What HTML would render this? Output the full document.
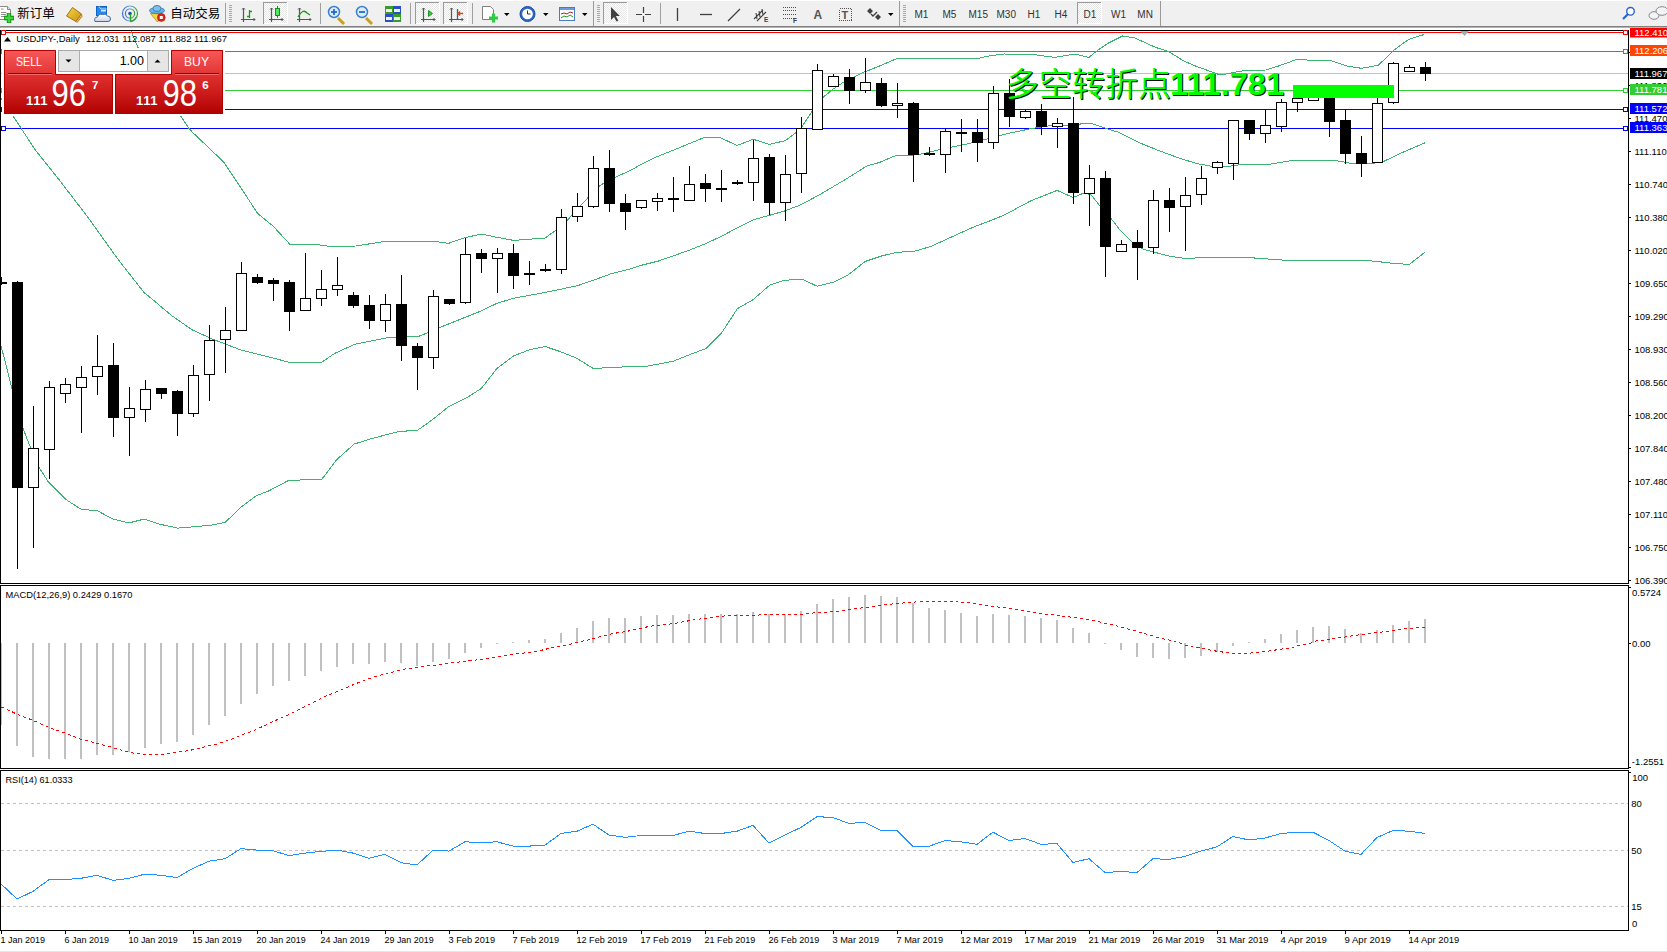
<!DOCTYPE html><html><head><meta charset="utf-8"><title>USDJPY Daily</title><style>html,body{margin:0;padding:0;background:#fff;overflow:hidden}svg{display:block}text{white-space:pre}</style></head><body>
<svg width="1667" height="952" viewBox="0 0 1667 952">
<rect x="0" y="0" width="1667" height="952" fill="#FFFFFF"/>
<g id="tb">
<rect x="0" y="0" width="1667" height="26" fill="#F0F0F0"/>
<rect x="0" y="0" width="1667" height="1" fill="#FFFFFF"/>
<rect x="0" y="26" width="1667" height="1" fill="#7F7F7F"/>
<rect x="0" y="27" width="1667" height="1" fill="#B4B4B4"/>
<rect x="225" y="3" width="1" height="21" fill="#A0A0A0"/>
<rect x="320" y="3" width="1" height="21" fill="#A0A0A0"/>
<rect x="410" y="3" width="1" height="21" fill="#A0A0A0"/>
<rect x="472" y="3" width="1" height="21" fill="#A0A0A0"/>
<rect x="660" y="3" width="1" height="21" fill="#A0A0A0"/>
<rect x="593" y="1" width="1" height="25" fill="#9A9A9A"/>
<rect x="899" y="1" width="1" height="25" fill="#9A9A9A"/>
<rect x="1160" y="1" width="1" height="25" fill="#9A9A9A"/>
<rect x="229" y="5" width="3" height="1" fill="#A8A8A8"/>
<rect x="229" y="7" width="3" height="1" fill="#A8A8A8"/>
<rect x="229" y="9" width="3" height="1" fill="#A8A8A8"/>
<rect x="229" y="11" width="3" height="1" fill="#A8A8A8"/>
<rect x="229" y="13" width="3" height="1" fill="#A8A8A8"/>
<rect x="229" y="15" width="3" height="1" fill="#A8A8A8"/>
<rect x="229" y="17" width="3" height="1" fill="#A8A8A8"/>
<rect x="229" y="19" width="3" height="1" fill="#A8A8A8"/>
<rect x="229" y="21" width="3" height="1" fill="#A8A8A8"/>
<rect x="597" y="5" width="3" height="1" fill="#A8A8A8"/>
<rect x="597" y="7" width="3" height="1" fill="#A8A8A8"/>
<rect x="597" y="9" width="3" height="1" fill="#A8A8A8"/>
<rect x="597" y="11" width="3" height="1" fill="#A8A8A8"/>
<rect x="597" y="13" width="3" height="1" fill="#A8A8A8"/>
<rect x="597" y="15" width="3" height="1" fill="#A8A8A8"/>
<rect x="597" y="17" width="3" height="1" fill="#A8A8A8"/>
<rect x="597" y="19" width="3" height="1" fill="#A8A8A8"/>
<rect x="597" y="21" width="3" height="1" fill="#A8A8A8"/>
<rect x="903" y="5" width="3" height="1" fill="#A8A8A8"/>
<rect x="903" y="7" width="3" height="1" fill="#A8A8A8"/>
<rect x="903" y="9" width="3" height="1" fill="#A8A8A8"/>
<rect x="903" y="11" width="3" height="1" fill="#A8A8A8"/>
<rect x="903" y="13" width="3" height="1" fill="#A8A8A8"/>
<rect x="903" y="15" width="3" height="1" fill="#A8A8A8"/>
<rect x="903" y="17" width="3" height="1" fill="#A8A8A8"/>
<rect x="903" y="19" width="3" height="1" fill="#A8A8A8"/>
<rect x="903" y="21" width="3" height="1" fill="#A8A8A8"/>
<defs><pattern id="pchk" width="2" height="2" patternUnits="userSpaceOnUse"><rect width="2" height="2" fill="#FFFFFF"/><rect width="1" height="1" fill="#E6E6E6"/><rect x="1" y="1" width="1" height="1" fill="#E6E6E6"/></pattern></defs>
<rect x="263" y="2" width="25" height="22" fill="#FFFFFF"/>
<rect x="264" y="3" width="23" height="20" fill="url(#pchk)"/>
<rect x="263" y="2" width="1" height="22" fill="#9A9A9A"/>
<rect x="263" y="2" width="24" height="1" fill="#9A9A9A"/>
<rect x="415" y="2" width="25" height="22" fill="#FFFFFF"/>
<rect x="416" y="3" width="23" height="20" fill="url(#pchk)"/>
<rect x="415" y="2" width="1" height="22" fill="#9A9A9A"/>
<rect x="415" y="2" width="24" height="1" fill="#9A9A9A"/>
<rect x="443" y="2" width="25" height="22" fill="#FFFFFF"/>
<rect x="444" y="3" width="23" height="20" fill="url(#pchk)"/>
<rect x="443" y="2" width="1" height="22" fill="#9A9A9A"/>
<rect x="443" y="2" width="24" height="1" fill="#9A9A9A"/>
<rect x="603" y="2" width="25" height="22" fill="#FFFFFF"/>
<rect x="604" y="3" width="23" height="20" fill="url(#pchk)"/>
<rect x="603" y="2" width="1" height="22" fill="#9A9A9A"/>
<rect x="603" y="2" width="24" height="1" fill="#9A9A9A"/>
<rect x="1077" y="2" width="25" height="22" fill="#FFFFFF"/>
<rect x="1078" y="3" width="23" height="20" fill="url(#pchk)"/>
<rect x="1077" y="2" width="1" height="22" fill="#9A9A9A"/>
<rect x="1077" y="2" width="24" height="1" fill="#9A9A9A"/>
<path d="M-0.5,6.5 h8 l3,3 v10 h-11 z" fill="#FFFFFF" stroke="#8A8A8A"/>
<path d="M7.5,6.5 v3 h3" fill="#E0E0E0" stroke="#8A8A8A"/>
<path d="M1,9h2.5M1,12.5h5.5M1,14.5h5M1,16.5h3" stroke="#909090"/>
<path d="M4,18 h10 M9,13 v10" stroke="#108A10" stroke-width="4.4"/>
<path d="M4.6,18 h8.8 M9,13.6 v8.8" stroke="#3AD83A" stroke-width="2.6"/>
<text x="17.3" y="17.6" font-family='"Liberation Sans", "Noto Sans CJK SC", "WenQuanYi Zen Hei", sans-serif' font-size="12.5" fill="#000">新订单</text>
<defs><linearGradient id="gbook" x1="0" y1="0" x2="1" y2="1"><stop offset="0" stop-color="#F8D840"/><stop offset="1" stop-color="#C89018"/></linearGradient><linearGradient id="gsig" x1="0" y1="0" x2="1" y2="0"><stop offset="0" stop-color="#3A6FD8"/><stop offset="0.5" stop-color="#7AA8E0"/><stop offset="1" stop-color="#3AA040"/></linearGradient><linearGradient id="gcloud" x1="0" y1="0" x2="0" y2="1"><stop offset="0" stop-color="#FFFFFF"/><stop offset="1" stop-color="#C8D4E4"/></linearGradient></defs>
<path d="M66.5,16 L72.5,7.5 L81.5,14 L76,21.5 Z" fill="url(#gbook)" stroke="#A86E12"/>
<path d="M76,21.5 L81.5,14 L82,16.5 L77,22.5 Z" fill="#E8C060" stroke="#A86E12" stroke-width="0.8"/>
<rect x="96.5" y="6.5" width="10" height="9" fill="#1E8CF0" stroke="#1060C0"/>
<path d="M99,6.5 l2,2.5 h5.5" stroke="#BFE0FF" fill="none"/>
<rect x="101" y="10" width="5" height="1.5" fill="#D0E8FF"/>
<path d="M95,21.5 q-1.5,-4 2.5,-4.5 q1,-3.5 5,-2.5 q3,-1.5 5,1.5 q3,0 3,3 q0,2.5 -2.5,2.5 z" fill="url(#gcloud)" stroke="#4A6898"/>
<circle cx="130" cy="13.5" r="7.5" fill="none" stroke="url(#gsig)" stroke-width="1.2"/>
<circle cx="130" cy="13.5" r="4.6" fill="none" stroke="url(#gsig)" stroke-width="1.2"/>
<circle cx="130" cy="13.5" r="1.8" fill="#2050C0"/>
<path d="M130.5,14 v7.5 M130.5,21.5 q4,-0.5 5.5,-4" stroke="#2AA02A" stroke-width="1.4" fill="none"/>
<path d="M150.5,13.5 l7,8.5 l6,-8 z" fill="#F4D648" stroke="#C09A20"/>
<ellipse cx="157" cy="10.5" rx="7.5" ry="3" fill="#6AB4E4" stroke="#3A82B8"/>
<ellipse cx="157" cy="8.5" rx="4" ry="3" fill="#7CC0EC" stroke="#3A82B8"/>
<circle cx="161.3" cy="17.5" r="3.9" fill="#D82818" stroke="#B01808" stroke-width="0.6"/>
<rect x="159.8" y="16" width="3" height="3" fill="#FFFFFF"/>
<text x="170.3" y="17.6" font-family='"Liberation Sans", "Noto Sans CJK SC", "WenQuanYi Zen Hei", sans-serif' font-size="12.5" fill="#000">自动交易</text>
<path d="M243.5,8 v14 M241,19.5 h14" stroke="#555555" stroke-width="1.2" fill="none"/>
<path d="M242,9.5 l1.5,-1.5 l1.5,1.5 M253.5,18 l1.5,1.5 l-1.5,1.5" stroke="#555555" fill="none"/>
<path d="M249.5,10 v8 M247,16.5 h2.5 M249.5,11.5 h2.5" stroke="#1A9A1A" stroke-width="1.3" fill="none"/>
<path d="M271.5,8 v14 M269,19.5 h14" stroke="#555555" stroke-width="1.2" fill="none"/>
<path d="M270,9.5 l1.5,-1.5 l1.5,1.5 M281.5,18 l1.5,1.5 l-1.5,1.5" stroke="#555555" fill="none"/>
<rect x="275.5" y="8.5" width="4" height="7" fill="#50E860" stroke="#109A10"/>
<path d="M277.5,6 v2.5 M277.5,15.5 v2.5" stroke="#109A10"/>
<path d="M299.5,8 v14 M297,19.5 h14" stroke="#555555" stroke-width="1.2" fill="none"/>
<path d="M298,9.5 l1.5,-1.5 l1.5,1.5 M309.5,18 l1.5,1.5 l-1.5,1.5" stroke="#555555" fill="none"/>
<path d="M298,17 q5,-9 9,-4 l3,2" stroke="#1A9A1A" stroke-width="1.3" fill="none"/>
<path d="M338,18 l6,6" stroke="#C8A020" stroke-width="3"/>
<circle cx="334" cy="12" r="5.5" fill="#D8ECFA" stroke="#3A80D0" stroke-width="1.5"/>
<path d="M331,12 h6" stroke="#2A6AC0" stroke-width="1.8"/>
<path d="M334,9 v6" stroke="#2A6AC0" stroke-width="1.8"/>
<path d="M366,18 l6,6" stroke="#C8A020" stroke-width="3"/>
<circle cx="362" cy="12" r="5.5" fill="#D8ECFA" stroke="#3A80D0" stroke-width="1.5"/>
<path d="M359,12 h6" stroke="#2A6AC0" stroke-width="1.8"/>
<rect x="385" y="6" width="8" height="8" fill="#3A9A2A"/>
<rect x="386" y="9" width="6" height="3" fill="#EAF2EA"/>
<rect x="393" y="6" width="8" height="8" fill="#2A50C0"/>
<rect x="394" y="9" width="6" height="3" fill="#EAF2EA"/>
<rect x="385" y="14" width="8" height="8" fill="#2A50C0"/>
<rect x="386" y="17" width="6" height="3" fill="#EAF2EA"/>
<rect x="393" y="14" width="8" height="8" fill="#3A9A2A"/>
<rect x="394" y="17" width="6" height="3" fill="#EAF2EA"/>
<path d="M423.5,8 v14 M421,19.5 h14" stroke="#555555" stroke-width="1.2" fill="none"/>
<path d="M422,9.5 l1.5,-1.5 l1.5,1.5 M433.5,18 l1.5,1.5 l-1.5,1.5" stroke="#555555" fill="none"/>
<path d="M428.5,10.5 l4,3 l-4,3 z" fill="#2ECC40" stroke="#1A9A1A"/>
<path d="M451.5,8 v14 M449,19.5 h14" stroke="#555555" stroke-width="1.2" fill="none"/>
<path d="M450,9.5 l1.5,-1.5 l1.5,1.5 M461.5,18 l1.5,1.5 l-1.5,1.5" stroke="#555555" fill="none"/>
<path d="M457.5,9 v10" stroke="#2060C0" stroke-width="1.3"/>
<path d="M463,13.5 h-4 M460,11.5 l-2,2 l2,2" stroke="#E04010" stroke-width="1.3" fill="none"/>
<path d="M482.5,6.5 h8 l3,3 v10 h-11 z" fill="#FFFFFF" stroke="#808080"/>
<path d="M489,18h9M493.5,13.5v9" stroke="#2ECC40" stroke-width="3"/>
<path d="M504,13 h5.5 l-2.75,3 z" fill="#000"/>
<path d="M543,13 h5.5 l-2.75,3 z" fill="#000"/>
<path d="M582,13 h5.5 l-2.75,3 z" fill="#000"/>
<path d="M888,13 h5.5 l-2.75,3 z" fill="#000"/>
<circle cx="527.5" cy="14" r="7.5" fill="#2A6AD0" stroke="#1A4A98"/>
<circle cx="527.5" cy="14" r="5.3" fill="#FFFFFF"/>
<path d="M527.5,10.5 v3.5 h3" stroke="#333" fill="none"/>
<rect x="559.5" y="7.5" width="15" height="13" fill="#FFFFFF" stroke="#4A7AC0"/>
<rect x="560" y="8" width="14" height="2" fill="#6A9AE0"/>
<path d="M561,14 l3,-1 l3,1 l3,-2 l3,1" stroke="#B02020" fill="none"/>
<path d="M561,18 l3,-2 l3,1 l3,-2 l3,2" stroke="#20A020" fill="none"/>
<path d="M611,7 l0,13 l3,-3 l2.5,4.5 l1.8,-1 l-2.5,-4.5 l4,0 z" fill="#404040"/>
<path d="M643.5,7 v15 M636,14.5 h15" stroke="#404040" stroke-width="1.2"/>
<rect x="642" y="13" width="3" height="3" fill="#F0F0F0"/>
<path d="M677.5,8 v13" stroke="#404040" stroke-width="1.3"/>
<path d="M700,14.5 h12" stroke="#404040" stroke-width="1.3"/>
<path d="M728,21 l12,-12" stroke="#404040" stroke-width="1.3"/>
<path d="M754,19 l9,-9 M757,21 l9,-9 M756,13 l1,6 M759,11 l1,6 M762,9 l1,6" stroke="#404040" stroke-width="1.1" fill="none"/>
<text x="764" y="22" font-family='"Liberation Sans", Arial, sans-serif' font-size="6.5" font-weight="bold" fill="#404040">E</text>
<path d="M783,7.5 h13" stroke="#505050" stroke-dasharray="1,1" shape-rendering="crispEdges"/>
<path d="M783,10.5 h13" stroke="#505050" stroke-dasharray="1,1" shape-rendering="crispEdges"/>
<path d="M783,14.5 h13" stroke="#505050" stroke-dasharray="1,1" shape-rendering="crispEdges"/>
<path d="M783,18.5 h13" stroke="#505050" stroke-dasharray="1,1" shape-rendering="crispEdges"/>
<text x="793" y="23" font-family='"Liberation Sans", Arial, sans-serif' font-size="6.5" font-weight="bold" fill="#404040">F</text>
<text x="813.5" y="18.5" font-family='"Liberation Sans", Arial, sans-serif' font-size="12" font-weight="bold" fill="#555">A</text>
<rect x="839.5" y="8.5" width="12" height="12" fill="none" stroke="#505050" stroke-dasharray="1,1" shape-rendering="crispEdges"/>
<text x="841.5" y="18.5" font-family='"Liberation Sans", Arial, sans-serif' font-size="11" font-weight="bold" fill="#555">T</text>
<path d="M870,8 l3,3 l-3,3 l-3,-3 z M878,14 l3,3 l-3,3 l-3,-3 z" fill="#404040"/>
<path d="M871,14 l2,2 l4,-4" stroke="#404040" stroke-width="1.3" fill="none"/>
<text x="914.5" y="18.4" font-family='"Liberation Sans", Arial, sans-serif' font-size="10" fill="#333">M1</text>
<text x="942.5" y="18.4" font-family='"Liberation Sans", Arial, sans-serif' font-size="10" fill="#333">M5</text>
<text x="968.5" y="18.4" font-family='"Liberation Sans", Arial, sans-serif' font-size="10" fill="#333">M15</text>
<text x="996.5" y="18.4" font-family='"Liberation Sans", Arial, sans-serif' font-size="10" fill="#333">M30</text>
<text x="1027.5" y="18.4" font-family='"Liberation Sans", Arial, sans-serif' font-size="10" fill="#333">H1</text>
<text x="1054.5" y="18.4" font-family='"Liberation Sans", Arial, sans-serif' font-size="10" fill="#333">H4</text>
<text x="1083.5" y="18.4" font-family='"Liberation Sans", Arial, sans-serif' font-size="10" fill="#333">D1</text>
<text x="1111" y="18.4" font-family='"Liberation Sans", Arial, sans-serif' font-size="10" fill="#333">W1</text>
<text x="1137.3" y="18.4" font-family='"Liberation Sans", Arial, sans-serif' font-size="10" fill="#333">MN</text>
<circle cx="1630.5" cy="11.3" r="3.8" fill="#FFFFFF" stroke="#2A62D0" stroke-width="1.4"/>
<path d="M1628,14 l-5,5" stroke="#2A62D0" stroke-width="2.2"/>
<ellipse cx="1654" cy="15.5" rx="5" ry="3.8" fill="#F4F4F8" stroke="#888"/>
<ellipse cx="1662" cy="11" rx="6" ry="4.3" fill="#F4F4F8" stroke="#888"/>
</g>
<defs><clipPath id="cm"><rect x="1" y="31" width="1627" height="552"/></clipPath><clipPath id="cmacd"><rect x="1" y="586" width="1627" height="182"/></clipPath><clipPath id="crsi"><rect x="1" y="771" width="1627" height="159"/></clipPath><clipPath id="cax"><rect x="1629" y="28" width="38" height="924"/></clipPath></defs>
<rect x="0" y="30" width="1629" height="1" fill="#000"/>
<rect x="0" y="583" width="1629" height="1" fill="#000"/>
<rect x="0" y="30" width="1" height="554" fill="#000"/>
<rect x="1628" y="30" width="1" height="554" fill="#000"/>
<rect x="1" y="32" width="1627" height="1" fill="#FF0000"/>
<rect x="1" y="51" width="1627" height="1" fill="#FF4500"/>
<rect x="1" y="73" width="1627" height="1" fill="#C0C0C0"/>
<rect x="1" y="90" width="1627" height="1" fill="#32CD32"/>
<rect x="1" y="109" width="1627" height="1" fill="#0000FF"/>
<rect x="1" y="128" width="1627" height="1" fill="#0000FF"/>
<g clip-path="url(#cm)" fill="none" stroke="#3CB371" stroke-width="1" shape-rendering="crispEdges">
<polyline points="125.0,18.0 131.0,30.9 138.0,47.4 160.0,84.0 180.9,116.2 188.6,128.0 192.6,132.4 223.5,161.8 241.2,188.2 257.4,213.2 273.5,226.5 289.7,244.1 310.0,244.3 320.0,245.0 329.6,246.4 356.4,246.0 383.2,241.6 436.8,241.6 448.4,243.4 465.4,237.5 481.6,234.1 496.8,237.3 513.6,240.4 545.0,238.0 553.5,232.0 566.1,221.5 577.0,209.6 588.8,196.8 598.6,186.8 603.9,182.9 614.6,177.5 630.0,170.7 640.0,165.0 656.8,156.8 683.6,146.0 704.1,137.5 721.0,138.0 737.1,145.5 753.2,139.3 769.3,144.3 785.4,140.7 796.0,132.7 800.7,128.6 811.4,112.5 822.0,98.2 832.9,89.3 843.6,82.1 861.4,73.2 879.3,66.1 896.2,58.9 905.0,58.2 979.0,58.2 987.3,56.2 1004.0,54.0 1032.7,54.5 1054.5,57.4 1074.7,54.0 1089.0,57.4 1098.2,49.8 1108.3,43.1 1122.5,36.0 1135.0,38.0 1155.3,47.3 1168.7,51.5 1183.4,60.8 1196.9,66.6 1220.4,75.0 1233.8,72.5 1245.6,70.3 1265.7,70.0 1279.2,65.8 1297.6,59.1 1309.4,60.2 1329.6,60.2 1348.0,66.3 1361.5,68.3 1378.3,65.3 1393.4,50.7 1408.5,39.4 1424.4,34.4"/>
<polyline points="1.0,98.0 13.2,116.2 35.3,150.0 58.8,179.4 88.2,217.6 117.6,258.8 144.1,292.6 150.0,297.3 171.0,315.1 192.0,329.8 213.0,339.3 240.3,349.8 261.3,355.0 288.5,362.1 321.8,362.1 335.0,353.2 354.6,344.3 390.4,337.1 418.0,336.6 427.9,332.7 440.4,327.3 480.0,311.4 496.8,303.4 513.6,298.2 545.1,292.5 577.7,285.6 593.4,280.3 610.3,274.0 627.1,269.8 641.8,265.2 658.6,261.0 675.4,255.1 690.1,249.9 705.8,243.6 721.6,236.2 737.4,227.8 753.1,219.8 769.9,215.2 784.6,211.0 800.0,205.1 817.3,196.0 833.7,186.4 847.4,178.2 866.8,166.0 879.3,162.5 896.2,155.4 915.0,155.0 925.7,153.2 938.2,150.0 950.7,147.3 967.9,143.9 988.4,138.6 1008.9,133.2 1030.4,128.8 1048.2,126.0 1066.0,125.7 1085.7,123.4 1092.9,124.0 1104.3,127.9 1118.6,132.3 1140.0,143.0 1157.9,150.2 1179.3,158.2 1197.1,163.6 1211.4,166.2 1225.7,166.8 1241.8,164.5 1268.9,164.4 1294.1,160.2 1333.5,160.2 1350.9,163.3 1366.6,164.0 1382.4,162.0 1402.3,152.5 1425.0,142.8"/>
<polyline points="0.0,341.8 11.8,387.8 23.6,429.8 30.2,446.9 39.4,467.9 48.6,482.3 65.7,499.4 81.4,509.4 97.2,510.7 112.9,519.0 128.7,523.0 144.4,519.0 160.2,524.3 177.9,528.1 210.4,525.3 225.1,522.4 241.9,506.4 255.6,496.1 269.2,490.7 288.6,480.4 321.8,479.3 336.5,459.8 354.3,444.0 372.2,438.4 399.5,431.4 417.4,430.4 433.1,419.2 447.8,407.3 466.7,397.8 481.4,388.4 496.8,368.6 513.6,356.0 529.4,349.7 545.1,346.5 560.9,351.8 576.6,358.1 593.4,368.6 609.2,367.5 648.1,366.0 673.3,361.2 690.1,354.5 705.8,348.6 721.6,332.9 737.4,308.7 753.1,299.7 769.9,285.0 784.6,280.3 802.3,279.2 817.3,286.3 833.7,282.0 848.7,274.5 865.1,261.5 881.5,256.0 896.5,252.3 914.3,251.3 930.7,246.5 945.7,239.6 960.7,232.8 974.4,226.7 990.0,220.8 1003.6,215.4 1030.4,201.0 1057.1,190.4 1073.2,197.5 1083.9,193.0 1091.0,194.8 1101.8,208.2 1110.7,218.0 1120.0,230.0 1132.9,243.0 1143.6,249.3 1170.4,256.4 1182.9,258.2 1241.8,257.3 1257.9,258.2 1273.6,259.5 1291.0,260.6 1368.2,260.6 1382.4,262.1 1391.8,263.2 1409.2,264.5 1425.0,252.2"/>
</g>
<rect x="1623.5" y="30.5" width="4" height="4" fill="#FFF" stroke="#FF0000"/>
<rect x="1.5" y="30.5" width="4" height="4" fill="#FFF" stroke="#FF0000"/>
<rect x="1623.5" y="49.5" width="4" height="4" fill="#FFF" stroke="#FF4500"/>
<rect x="1.5" y="49.5" width="4" height="4" fill="#FFF" stroke="#FF4500"/>
<rect x="1623.5" y="88.5" width="4" height="4" fill="#FFF" stroke="#32CD32"/>
<rect x="1.5" y="88.5" width="4" height="4" fill="#FFF" stroke="#32CD32"/>
<rect x="1623.5" y="107.5" width="4" height="4" fill="#FFF" stroke="#0000FF"/>
<rect x="1.5" y="107.5" width="4" height="4" fill="#FFF" stroke="#0000FF"/>
<rect x="1623.5" y="126.5" width="4" height="4" fill="#FFF" stroke="#0000FF"/>
<rect x="1.5" y="126.5" width="4" height="4" fill="#FFF" stroke="#0000FF"/>
<g clip-path="url(#cm)" shape-rendering="crispEdges">
<rect x="1" y="277" width="1" height="8" fill="#000"/>
<rect x="-3.5" y="282.5" width="10" height="1" fill="#000" stroke="#000"/>
<rect x="17" y="281" width="1" height="288" fill="#000"/>
<rect x="12.5" y="282.5" width="10" height="205" fill="#000" stroke="#000"/>
<rect x="33" y="406" width="1" height="142" fill="#000"/>
<rect x="28.5" y="448.5" width="10" height="39" fill="#FFF" stroke="#000"/>
<rect x="49" y="381" width="1" height="98" fill="#000"/>
<rect x="44.5" y="387.5" width="10" height="62" fill="#FFF" stroke="#000"/>
<rect x="65" y="378" width="1" height="25" fill="#000"/>
<rect x="60.5" y="384.5" width="10" height="9" fill="#FFF" stroke="#000"/>
<rect x="81" y="366" width="1" height="67" fill="#000"/>
<rect x="76.5" y="377.5" width="10" height="10" fill="#FFF" stroke="#000"/>
<rect x="97" y="335" width="1" height="60" fill="#000"/>
<rect x="92.5" y="366.5" width="10" height="10" fill="#FFF" stroke="#000"/>
<rect x="113" y="343" width="1" height="94" fill="#000"/>
<rect x="108.5" y="365.5" width="10" height="52" fill="#000" stroke="#000"/>
<rect x="129" y="387" width="1" height="69" fill="#000"/>
<rect x="124.5" y="408.5" width="10" height="9" fill="#FFF" stroke="#000"/>
<rect x="145" y="380" width="1" height="42" fill="#000"/>
<rect x="140.5" y="389.5" width="10" height="20" fill="#FFF" stroke="#000"/>
<rect x="161" y="388" width="1" height="11" fill="#000"/>
<rect x="156.5" y="388.5" width="10" height="5" fill="#000" stroke="#000"/>
<rect x="177" y="390" width="1" height="46" fill="#000"/>
<rect x="172.5" y="391.5" width="10" height="22" fill="#000" stroke="#000"/>
<rect x="193" y="365" width="1" height="52" fill="#000"/>
<rect x="188.5" y="375.5" width="10" height="38" fill="#FFF" stroke="#000"/>
<rect x="209" y="325" width="1" height="76" fill="#000"/>
<rect x="204.5" y="340.5" width="10" height="34" fill="#FFF" stroke="#000"/>
<rect x="225" y="307" width="1" height="66" fill="#000"/>
<rect x="220.5" y="330.5" width="10" height="9" fill="#FFF" stroke="#000"/>
<rect x="241" y="262" width="1" height="69" fill="#000"/>
<rect x="236.5" y="273.5" width="10" height="57" fill="#FFF" stroke="#000"/>
<rect x="257" y="274" width="1" height="10" fill="#000"/>
<rect x="252.5" y="277.5" width="10" height="5" fill="#000" stroke="#000"/>
<rect x="273" y="278" width="1" height="23" fill="#000"/>
<rect x="268.5" y="280.5" width="10" height="3" fill="#000" stroke="#000"/>
<rect x="289" y="280" width="1" height="51" fill="#000"/>
<rect x="284.5" y="282.5" width="10" height="29" fill="#000" stroke="#000"/>
<rect x="305" y="253" width="1" height="57" fill="#000"/>
<rect x="300.5" y="298.5" width="10" height="12" fill="#FFF" stroke="#000"/>
<rect x="321" y="270" width="1" height="36" fill="#000"/>
<rect x="316.5" y="289.5" width="10" height="9" fill="#FFF" stroke="#000"/>
<rect x="337" y="257" width="1" height="39" fill="#000"/>
<rect x="332.5" y="285.5" width="10" height="4" fill="#FFF" stroke="#000"/>
<rect x="353" y="292" width="1" height="16" fill="#000"/>
<rect x="348.5" y="295.5" width="10" height="10" fill="#000" stroke="#000"/>
<rect x="369" y="295" width="1" height="34" fill="#000"/>
<rect x="364.5" y="305.5" width="10" height="15" fill="#000" stroke="#000"/>
<rect x="385" y="294" width="1" height="38" fill="#000"/>
<rect x="380.5" y="304.5" width="10" height="16" fill="#FFF" stroke="#000"/>
<rect x="401" y="275" width="1" height="86" fill="#000"/>
<rect x="396.5" y="304.5" width="10" height="41" fill="#000" stroke="#000"/>
<rect x="417" y="343" width="1" height="47" fill="#000"/>
<rect x="412.5" y="346.5" width="10" height="11" fill="#000" stroke="#000"/>
<rect x="433" y="290" width="1" height="79" fill="#000"/>
<rect x="428.5" y="296.5" width="10" height="61" fill="#FFF" stroke="#000"/>
<rect x="449" y="299" width="1" height="6" fill="#000"/>
<rect x="444.5" y="299.5" width="10" height="4" fill="#000" stroke="#000"/>
<rect x="465" y="238" width="1" height="66" fill="#000"/>
<rect x="460.5" y="254.5" width="10" height="48" fill="#FFF" stroke="#000"/>
<rect x="481" y="249" width="1" height="24" fill="#000"/>
<rect x="476.5" y="253.5" width="10" height="5" fill="#000" stroke="#000"/>
<rect x="497" y="248" width="1" height="45" fill="#000"/>
<rect x="492.5" y="253.5" width="10" height="5" fill="#FFF" stroke="#000"/>
<rect x="513" y="244" width="1" height="45" fill="#000"/>
<rect x="508.5" y="253.5" width="10" height="22" fill="#000" stroke="#000"/>
<rect x="529" y="261" width="1" height="24" fill="#000"/>
<rect x="524.5" y="273.5" width="10" height="1" fill="#000" stroke="#000"/>
<rect x="545" y="264" width="1" height="8" fill="#000"/>
<rect x="540.5" y="269.5" width="10" height="1" fill="#000" stroke="#000"/>
<rect x="561" y="209" width="1" height="65" fill="#000"/>
<rect x="556.5" y="217.5" width="10" height="52" fill="#FFF" stroke="#000"/>
<rect x="577" y="193" width="1" height="29" fill="#000"/>
<rect x="572.5" y="206.5" width="10" height="10" fill="#FFF" stroke="#000"/>
<rect x="593" y="156" width="1" height="52" fill="#000"/>
<rect x="588.5" y="168.5" width="10" height="38" fill="#FFF" stroke="#000"/>
<rect x="609" y="150" width="1" height="62" fill="#000"/>
<rect x="604.5" y="168.5" width="10" height="35" fill="#000" stroke="#000"/>
<rect x="625" y="194" width="1" height="36" fill="#000"/>
<rect x="620.5" y="203.5" width="10" height="8" fill="#000" stroke="#000"/>
<rect x="641" y="200" width="1" height="9" fill="#000"/>
<rect x="636.5" y="200.5" width="10" height="7" fill="#FFF" stroke="#000"/>
<rect x="657" y="193" width="1" height="18" fill="#000"/>
<rect x="652.5" y="198.5" width="10" height="3" fill="#FFF" stroke="#000"/>
<rect x="673" y="177" width="1" height="35" fill="#000"/>
<rect x="668.5" y="198.5" width="10" height="1" fill="#000" stroke="#000"/>
<rect x="689" y="166" width="1" height="34" fill="#000"/>
<rect x="684.5" y="184.5" width="10" height="16" fill="#FFF" stroke="#000"/>
<rect x="705" y="174" width="1" height="28" fill="#000"/>
<rect x="700.5" y="183.5" width="10" height="5" fill="#000" stroke="#000"/>
<rect x="721" y="170" width="1" height="32" fill="#000"/>
<rect x="716.5" y="188.5" width="10" height="1" fill="#000" stroke="#000"/>
<rect x="737" y="180" width="1" height="5" fill="#000"/>
<rect x="732.5" y="182.5" width="10" height="1" fill="#000" stroke="#000"/>
<rect x="753" y="140" width="1" height="61" fill="#000"/>
<rect x="748.5" y="158.5" width="10" height="24" fill="#FFF" stroke="#000"/>
<rect x="769" y="154" width="1" height="61" fill="#000"/>
<rect x="764.5" y="157.5" width="10" height="45" fill="#000" stroke="#000"/>
<rect x="785" y="155" width="1" height="66" fill="#000"/>
<rect x="780.5" y="174.5" width="10" height="28" fill="#FFF" stroke="#000"/>
<rect x="801" y="117" width="1" height="76" fill="#000"/>
<rect x="796.5" y="128.5" width="10" height="45" fill="#FFF" stroke="#000"/>
<rect x="817" y="64" width="1" height="65" fill="#000"/>
<rect x="812.5" y="70.5" width="10" height="59" fill="#FFF" stroke="#000"/>
<rect x="833" y="74" width="1" height="12" fill="#000"/>
<rect x="828.5" y="76.5" width="10" height="10" fill="#FFF" stroke="#000"/>
<rect x="849" y="69" width="1" height="35" fill="#000"/>
<rect x="844.5" y="77.5" width="10" height="13" fill="#000" stroke="#000"/>
<rect x="865" y="58" width="1" height="35" fill="#000"/>
<rect x="860.5" y="82.5" width="10" height="8" fill="#FFF" stroke="#000"/>
<rect x="881" y="78" width="1" height="29" fill="#000"/>
<rect x="876.5" y="83.5" width="10" height="22" fill="#000" stroke="#000"/>
<rect x="897" y="83" width="1" height="35" fill="#000"/>
<rect x="892.5" y="103.5" width="10" height="2" fill="#FFF" stroke="#000"/>
<rect x="913" y="102" width="1" height="80" fill="#000"/>
<rect x="908.5" y="103.5" width="10" height="51" fill="#000" stroke="#000"/>
<rect x="929" y="147" width="1" height="9" fill="#000"/>
<rect x="924.5" y="153.5" width="10" height="1" fill="#000" stroke="#000"/>
<rect x="945" y="128" width="1" height="45" fill="#000"/>
<rect x="940.5" y="131.5" width="10" height="23" fill="#FFF" stroke="#000"/>
<rect x="961" y="119" width="1" height="33" fill="#000"/>
<rect x="956.5" y="132.5" width="10" height="1" fill="#000" stroke="#000"/>
<rect x="977" y="119" width="1" height="43" fill="#000"/>
<rect x="972.5" y="132.5" width="10" height="10" fill="#000" stroke="#000"/>
<rect x="993" y="86" width="1" height="63" fill="#000"/>
<rect x="988.5" y="93.5" width="10" height="49" fill="#FFF" stroke="#000"/>
<rect x="1009" y="79" width="1" height="48" fill="#000"/>
<rect x="1004.5" y="93.5" width="10" height="23" fill="#000" stroke="#000"/>
<rect x="1025" y="110" width="1" height="9" fill="#000"/>
<rect x="1020.5" y="111.5" width="10" height="6" fill="#FFF" stroke="#000"/>
<rect x="1041" y="104" width="1" height="31" fill="#000"/>
<rect x="1036.5" y="111.5" width="10" height="15" fill="#000" stroke="#000"/>
<rect x="1057" y="118" width="1" height="30" fill="#000"/>
<rect x="1052.5" y="123.5" width="10" height="3" fill="#FFF" stroke="#000"/>
<rect x="1073" y="97" width="1" height="107" fill="#000"/>
<rect x="1068.5" y="123.5" width="10" height="69" fill="#000" stroke="#000"/>
<rect x="1089" y="165" width="1" height="61" fill="#000"/>
<rect x="1084.5" y="178.5" width="10" height="15" fill="#FFF" stroke="#000"/>
<rect x="1105" y="171" width="1" height="106" fill="#000"/>
<rect x="1100.5" y="178.5" width="10" height="68" fill="#000" stroke="#000"/>
<rect x="1121" y="240" width="1" height="11" fill="#000"/>
<rect x="1116.5" y="244.5" width="10" height="7" fill="#FFF" stroke="#000"/>
<rect x="1137" y="230" width="1" height="50" fill="#000"/>
<rect x="1132.5" y="242.5" width="10" height="5" fill="#000" stroke="#000"/>
<rect x="1153" y="190" width="1" height="64" fill="#000"/>
<rect x="1148.5" y="200.5" width="10" height="47" fill="#FFF" stroke="#000"/>
<rect x="1169" y="188" width="1" height="44" fill="#000"/>
<rect x="1164.5" y="200.5" width="10" height="7" fill="#000" stroke="#000"/>
<rect x="1185" y="177" width="1" height="74" fill="#000"/>
<rect x="1180.5" y="195.5" width="10" height="11" fill="#FFF" stroke="#000"/>
<rect x="1201" y="166" width="1" height="39" fill="#000"/>
<rect x="1196.5" y="178.5" width="10" height="16" fill="#FFF" stroke="#000"/>
<rect x="1217" y="161" width="1" height="13" fill="#000"/>
<rect x="1212.5" y="162.5" width="10" height="5" fill="#FFF" stroke="#000"/>
<rect x="1233" y="120" width="1" height="60" fill="#000"/>
<rect x="1228.5" y="120.5" width="10" height="43" fill="#FFF" stroke="#000"/>
<rect x="1249" y="120" width="1" height="20" fill="#000"/>
<rect x="1244.5" y="120.5" width="10" height="13" fill="#000" stroke="#000"/>
<rect x="1265" y="109" width="1" height="34" fill="#000"/>
<rect x="1260.5" y="125.5" width="10" height="8" fill="#FFF" stroke="#000"/>
<rect x="1281" y="99" width="1" height="33" fill="#000"/>
<rect x="1276.5" y="102.5" width="10" height="24" fill="#FFF" stroke="#000"/>
<rect x="1297" y="95" width="1" height="17" fill="#000"/>
<rect x="1292.5" y="98.5" width="10" height="4" fill="#FFF" stroke="#000"/>
<rect x="1313" y="92" width="1" height="8" fill="#000"/>
<rect x="1308.5" y="95.5" width="10" height="5" fill="#FFF" stroke="#000"/>
<rect x="1329" y="90" width="1" height="47" fill="#000"/>
<rect x="1324.5" y="95.5" width="10" height="26" fill="#000" stroke="#000"/>
<rect x="1345" y="109" width="1" height="55" fill="#000"/>
<rect x="1340.5" y="120.5" width="10" height="33" fill="#000" stroke="#000"/>
<rect x="1361" y="136" width="1" height="41" fill="#000"/>
<rect x="1356.5" y="153.5" width="10" height="10" fill="#000" stroke="#000"/>
<rect x="1377" y="98" width="1" height="64" fill="#000"/>
<rect x="1372.5" y="103.5" width="10" height="59" fill="#FFF" stroke="#000"/>
<rect x="1393" y="62" width="1" height="42" fill="#000"/>
<rect x="1388.5" y="63.5" width="10" height="39" fill="#FFF" stroke="#000"/>
<rect x="1409" y="65" width="1" height="6" fill="#000"/>
<rect x="1404.5" y="67.5" width="10" height="4" fill="#FFF" stroke="#000"/>
<rect x="1425" y="62" width="1" height="19" fill="#000"/>
<rect x="1420.5" y="67.5" width="10" height="6" fill="#000" stroke="#000"/>
</g>
<path d="M1460,31 h9 l-4.5,5 z" fill="#A8A8A8"/>
<rect x="1293" y="85" width="101" height="13" fill="#00FF00"/>
<text x="1007" y="97" font-family='"Liberation Sans", "Noto Sans CJK SC", "WenQuanYi Zen Hei", sans-serif' font-size="33" font-weight="350" fill="#000000" textLength="165" lengthAdjust="spacingAndGlyphs">多空转折点</text>
<text x="1171" y="96" font-family='"Liberation Sans", Arial, sans-serif' font-weight="bold" font-size="31.5" fill="#000000" textLength="114" lengthAdjust="spacingAndGlyphs">111.781</text>
<text x="1006" y="96" font-family='"Liberation Sans", "Noto Sans CJK SC", "WenQuanYi Zen Hei", sans-serif' font-size="33" font-weight="350" fill="#00FF00" textLength="165" lengthAdjust="spacingAndGlyphs">多空转折点</text>
<text x="1170" y="95" font-family='"Liberation Sans", Arial, sans-serif' font-weight="bold" font-size="31.5" fill="#00FF00" textLength="114" lengthAdjust="spacingAndGlyphs">111.781</text>
<defs><linearGradient id="gtab" x1="0" y1="0" x2="0" y2="1"><stop offset="0" stop-color="#F85858"/><stop offset="1" stop-color="#E23636"/></linearGradient><linearGradient id="gbox" x1="0" y1="0" x2="0" y2="1"><stop offset="0" stop-color="#E03030"/><stop offset="0.5" stop-color="#CC1A1A"/><stop offset="1" stop-color="#B00000"/></linearGradient></defs>
<path d="M4,41.5 l3.5,-4.5 l3.5,4.5 z" fill="#000"/>
<text x="16.3" y="42" font-family='"Liberation Sans", Arial, sans-serif' font-size="9.5" fill="#000" textLength="63.5" lengthAdjust="spacingAndGlyphs">USDJPY-,Daily</text>
<text x="86" y="42" font-family='"Liberation Sans", Arial, sans-serif' font-size="9.5" fill="#000" textLength="141" lengthAdjust="spacingAndGlyphs">112.031 112.087 111.882 111.967</text>
<rect x="2" y="48" width="223" height="68" fill="#FFFFFF"/>
<rect x="4" y="74" width="109" height="40" fill="url(#gbox)"/>
<rect x="4" y="50" width="52" height="24" fill="url(#gtab)"/>
<rect x="115" y="74" width="108" height="40" fill="url(#gbox)"/>
<rect x="171" y="50" width="52" height="24" fill="url(#gtab)"/>
<path d="M4.5,50.5 H55.5 V74.5 H112.5 V113.5 H4.5 Z" fill="none" stroke="#B00000"/>
<path d="M171.5,50.5 H222.5 V113.5 H115.5 V74.5 H171.5 Z" fill="none" stroke="#B00000"/>
<rect x="8" y="73" width="44" height="1" fill="#8A0000"/><rect x="8" y="74" width="44" height="1" fill="#F06A6A"/>
<rect x="175" y="73" width="44" height="1" fill="#8A0000"/><rect x="175" y="74" width="44" height="1" fill="#F06A6A"/>
<text x="16" y="66" font-family='"Liberation Sans", Arial, sans-serif' font-size="12.5" fill="#FFF" textLength="26" lengthAdjust="spacingAndGlyphs">SELL</text>
<text x="184" y="66" font-family='"Liberation Sans", Arial, sans-serif' font-size="12.5" fill="#FFF" textLength="25" lengthAdjust="spacingAndGlyphs">BUY</text>
<rect x="58.5" y="50.5" width="110" height="21" fill="#FFF" stroke="#A8A8A8"/>
<rect x="59" y="51" width="20" height="20" fill="#E6E6E6"/><rect x="79" y="51" width="1" height="20" fill="#B0B0B0"/>
<rect x="148" y="51" width="20" height="20" fill="#E6E6E6"/><rect x="147" y="51" width="1" height="20" fill="#B0B0B0"/>
<path d="M65.5,59.5 h6 l-3,3 z" fill="#000"/><path d="M154.5,62.5 h6 l-3,-3 z" fill="#000"/>
<text x="144" y="65" font-family='"Liberation Sans", Arial, sans-serif' font-size="12.5" fill="#000" text-anchor="end">1.00</text>
<text x="26.0" y="105" font-family='"Liberation Sans", Arial, sans-serif' font-size="13" font-weight="bold" fill="#FFF" textLength="21.6" lengthAdjust="spacing">111</text>
<text x="51.5" y="105.5" font-family='"Liberation Sans", Arial, sans-serif' font-size="36" fill="#FFF" textLength="34.5" lengthAdjust="spacingAndGlyphs">96</text>
<text x="92" y="88.5" font-family='"Liberation Sans", Arial, sans-serif' font-size="11.5" font-weight="bold" fill="#FFF">7</text>
<text x="136.0" y="105" font-family='"Liberation Sans", Arial, sans-serif' font-size="13" font-weight="bold" fill="#FFF" textLength="21.6" lengthAdjust="spacing">111</text>
<text x="162.5" y="105.5" font-family='"Liberation Sans", Arial, sans-serif' font-size="36" fill="#FFF" textLength="34.5" lengthAdjust="spacingAndGlyphs">98</text>
<text x="202.3" y="88.5" font-family='"Liberation Sans", Arial, sans-serif' font-size="11.5" font-weight="bold" fill="#FFF">6</text>
<rect x="1629" y="52" width="2" height="1" fill="#000"/>
<text x="1634.5" y="56" font-family='"Liberation Sans", Arial, sans-serif' font-size="9.5" fill="#000">112.200</text>
<rect x="1629" y="85" width="2" height="1" fill="#000"/>
<text x="1634.5" y="89" font-family='"Liberation Sans", Arial, sans-serif' font-size="9.5" fill="#000">111.830</text>
<rect x="1629" y="118" width="2" height="1" fill="#000"/>
<text x="1634.5" y="122" font-family='"Liberation Sans", Arial, sans-serif' font-size="9.5" fill="#000">111.470</text>
<rect x="1629" y="151" width="2" height="1" fill="#000"/>
<text x="1634.5" y="155" font-family='"Liberation Sans", Arial, sans-serif' font-size="9.5" fill="#000">111.110</text>
<rect x="1629" y="184" width="2" height="1" fill="#000"/>
<text x="1634.5" y="188" font-family='"Liberation Sans", Arial, sans-serif' font-size="9.5" fill="#000">110.740</text>
<rect x="1629" y="217" width="2" height="1" fill="#000"/>
<text x="1634.5" y="221" font-family='"Liberation Sans", Arial, sans-serif' font-size="9.5" fill="#000">110.380</text>
<rect x="1629" y="250" width="2" height="1" fill="#000"/>
<text x="1634.5" y="254" font-family='"Liberation Sans", Arial, sans-serif' font-size="9.5" fill="#000">110.020</text>
<rect x="1629" y="283" width="2" height="1" fill="#000"/>
<text x="1634.5" y="287" font-family='"Liberation Sans", Arial, sans-serif' font-size="9.5" fill="#000">109.650</text>
<rect x="1629" y="316" width="2" height="1" fill="#000"/>
<text x="1634.5" y="320" font-family='"Liberation Sans", Arial, sans-serif' font-size="9.5" fill="#000">109.290</text>
<rect x="1629" y="349" width="2" height="1" fill="#000"/>
<text x="1634.5" y="353" font-family='"Liberation Sans", Arial, sans-serif' font-size="9.5" fill="#000">108.930</text>
<rect x="1629" y="382" width="2" height="1" fill="#000"/>
<text x="1634.5" y="386" font-family='"Liberation Sans", Arial, sans-serif' font-size="9.5" fill="#000">108.560</text>
<rect x="1629" y="415" width="2" height="1" fill="#000"/>
<text x="1634.5" y="419" font-family='"Liberation Sans", Arial, sans-serif' font-size="9.5" fill="#000">108.200</text>
<rect x="1629" y="448" width="2" height="1" fill="#000"/>
<text x="1634.5" y="452" font-family='"Liberation Sans", Arial, sans-serif' font-size="9.5" fill="#000">107.840</text>
<rect x="1629" y="481" width="2" height="1" fill="#000"/>
<text x="1634.5" y="485" font-family='"Liberation Sans", Arial, sans-serif' font-size="9.5" fill="#000">107.480</text>
<rect x="1629" y="514" width="2" height="1" fill="#000"/>
<text x="1634.5" y="518" font-family='"Liberation Sans", Arial, sans-serif' font-size="9.5" fill="#000">107.110</text>
<rect x="1629" y="547" width="2" height="1" fill="#000"/>
<text x="1634.5" y="551" font-family='"Liberation Sans", Arial, sans-serif' font-size="9.5" fill="#000">106.750</text>
<rect x="1629" y="580" width="2" height="1" fill="#000"/>
<text x="1634.5" y="584" font-family='"Liberation Sans", Arial, sans-serif' font-size="9.5" fill="#000">106.390</text>
<g clip-path="url(#cax)">
<rect x="1630" y="26.5" width="37" height="11" fill="#FF0000"/>
<text x="1634.5" y="35.5" font-family='"Liberation Sans", Arial, sans-serif' font-size="9.5" fill="#FFF">112.410</text>
<rect x="1630" y="45" width="37" height="11" fill="#FF4500"/>
<text x="1634.5" y="54" font-family='"Liberation Sans", Arial, sans-serif' font-size="9.5" fill="#FFF">112.206</text>
<rect x="1630" y="68" width="37" height="11" fill="#000000"/>
<text x="1634.5" y="77" font-family='"Liberation Sans", Arial, sans-serif' font-size="9.5" fill="#FFF">111.967</text>
<rect x="1630" y="84" width="37" height="11" fill="#32CD32"/>
<text x="1634.5" y="93" font-family='"Liberation Sans", Arial, sans-serif' font-size="9.5" fill="#FFF">111.781</text>
<rect x="1630" y="103" width="37" height="11" fill="#0000FF"/>
<text x="1634.5" y="112" font-family='"Liberation Sans", Arial, sans-serif' font-size="9.5" fill="#FFF">111.572</text>
<rect x="1630" y="122" width="37" height="11" fill="#0000FF"/>
<text x="1634.5" y="131" font-family='"Liberation Sans", Arial, sans-serif' font-size="9.5" fill="#FFF">111.363</text>
</g>
<rect x="0" y="585" width="1629" height="1" fill="#000"/>
<rect x="0" y="768" width="1629" height="1" fill="#000"/>
<rect x="0" y="585" width="1" height="184" fill="#000"/>
<rect x="1628" y="585" width="1" height="184" fill="#000"/>
<g clip-path="url(#cmacd)" shape-rendering="crispEdges">
<rect x="0" y="643" width="2" height="82" fill="#C0C0C0"/>
<rect x="16" y="643" width="2" height="103" fill="#C0C0C0"/>
<rect x="32" y="643" width="2" height="114" fill="#C0C0C0"/>
<rect x="48" y="643" width="2" height="116" fill="#C0C0C0"/>
<rect x="64" y="643" width="2" height="116" fill="#C0C0C0"/>
<rect x="80" y="643" width="2" height="116" fill="#C0C0C0"/>
<rect x="96" y="643" width="2" height="112" fill="#C0C0C0"/>
<rect x="112" y="643" width="2" height="112" fill="#C0C0C0"/>
<rect x="128" y="643" width="2" height="109" fill="#C0C0C0"/>
<rect x="144" y="643" width="2" height="105" fill="#C0C0C0"/>
<rect x="160" y="643" width="2" height="101" fill="#C0C0C0"/>
<rect x="176" y="643" width="2" height="99" fill="#C0C0C0"/>
<rect x="192" y="643" width="2" height="92" fill="#C0C0C0"/>
<rect x="208" y="643" width="2" height="82" fill="#C0C0C0"/>
<rect x="224" y="643" width="2" height="73" fill="#C0C0C0"/>
<rect x="240" y="643" width="2" height="61" fill="#C0C0C0"/>
<rect x="256" y="643" width="2" height="51" fill="#C0C0C0"/>
<rect x="272" y="643" width="2" height="43" fill="#C0C0C0"/>
<rect x="288" y="643" width="2" height="38" fill="#C0C0C0"/>
<rect x="304" y="643" width="2" height="33" fill="#C0C0C0"/>
<rect x="320" y="643" width="2" height="28" fill="#C0C0C0"/>
<rect x="336" y="643" width="2" height="24" fill="#C0C0C0"/>
<rect x="352" y="643" width="2" height="21" fill="#C0C0C0"/>
<rect x="368" y="643" width="2" height="21" fill="#C0C0C0"/>
<rect x="384" y="643" width="2" height="19" fill="#C0C0C0"/>
<rect x="400" y="643" width="2" height="20" fill="#C0C0C0"/>
<rect x="416" y="643" width="2" height="23" fill="#C0C0C0"/>
<rect x="432" y="643" width="2" height="19" fill="#C0C0C0"/>
<rect x="448" y="643" width="2" height="16" fill="#C0C0C0"/>
<rect x="464" y="643" width="2" height="10" fill="#C0C0C0"/>
<rect x="480" y="643" width="2" height="5" fill="#C0C0C0"/>
<rect x="496" y="643" width="2" height="1" fill="#C0C0C0"/>
<rect x="512" y="642" width="2" height="1" fill="#C0C0C0"/>
<rect x="528" y="640" width="2" height="3" fill="#C0C0C0"/>
<rect x="544" y="639" width="2" height="4" fill="#C0C0C0"/>
<rect x="560" y="633" width="2" height="10" fill="#C0C0C0"/>
<rect x="576" y="628" width="2" height="15" fill="#C0C0C0"/>
<rect x="592" y="621" width="2" height="22" fill="#C0C0C0"/>
<rect x="608" y="618" width="2" height="25" fill="#C0C0C0"/>
<rect x="624" y="618" width="2" height="25" fill="#C0C0C0"/>
<rect x="640" y="616" width="2" height="27" fill="#C0C0C0"/>
<rect x="656" y="615" width="2" height="28" fill="#C0C0C0"/>
<rect x="672" y="615" width="2" height="28" fill="#C0C0C0"/>
<rect x="688" y="614" width="2" height="29" fill="#C0C0C0"/>
<rect x="704" y="614" width="2" height="29" fill="#C0C0C0"/>
<rect x="720" y="614" width="2" height="29" fill="#C0C0C0"/>
<rect x="736" y="614" width="2" height="29" fill="#C0C0C0"/>
<rect x="752" y="612" width="2" height="31" fill="#C0C0C0"/>
<rect x="768" y="614" width="2" height="29" fill="#C0C0C0"/>
<rect x="784" y="614" width="2" height="29" fill="#C0C0C0"/>
<rect x="800" y="611" width="2" height="32" fill="#C0C0C0"/>
<rect x="816" y="604" width="2" height="39" fill="#C0C0C0"/>
<rect x="832" y="599" width="2" height="44" fill="#C0C0C0"/>
<rect x="848" y="597" width="2" height="46" fill="#C0C0C0"/>
<rect x="864" y="595" width="2" height="48" fill="#C0C0C0"/>
<rect x="880" y="596" width="2" height="47" fill="#C0C0C0"/>
<rect x="896" y="597" width="2" height="46" fill="#C0C0C0"/>
<rect x="912" y="603" width="2" height="40" fill="#C0C0C0"/>
<rect x="928" y="608" width="2" height="35" fill="#C0C0C0"/>
<rect x="944" y="610" width="2" height="33" fill="#C0C0C0"/>
<rect x="960" y="613" width="2" height="30" fill="#C0C0C0"/>
<rect x="976" y="616" width="2" height="27" fill="#C0C0C0"/>
<rect x="992" y="614" width="2" height="29" fill="#C0C0C0"/>
<rect x="1008" y="615" width="2" height="28" fill="#C0C0C0"/>
<rect x="1024" y="616" width="2" height="27" fill="#C0C0C0"/>
<rect x="1040" y="618" width="2" height="25" fill="#C0C0C0"/>
<rect x="1056" y="620" width="2" height="23" fill="#C0C0C0"/>
<rect x="1072" y="628" width="2" height="15" fill="#C0C0C0"/>
<rect x="1088" y="633" width="2" height="10" fill="#C0C0C0"/>
<rect x="1104" y="643" width="2" height="1" fill="#C0C0C0"/>
<rect x="1120" y="643" width="2" height="7" fill="#C0C0C0"/>
<rect x="1136" y="643" width="2" height="14" fill="#C0C0C0"/>
<rect x="1152" y="643" width="2" height="15" fill="#C0C0C0"/>
<rect x="1168" y="643" width="2" height="16" fill="#C0C0C0"/>
<rect x="1184" y="643" width="2" height="15" fill="#C0C0C0"/>
<rect x="1200" y="643" width="2" height="13" fill="#C0C0C0"/>
<rect x="1216" y="643" width="2" height="9" fill="#C0C0C0"/>
<rect x="1232" y="643" width="2" height="3" fill="#C0C0C0"/>
<rect x="1248" y="642" width="2" height="1" fill="#C0C0C0"/>
<rect x="1264" y="639" width="2" height="4" fill="#C0C0C0"/>
<rect x="1280" y="634" width="2" height="9" fill="#C0C0C0"/>
<rect x="1296" y="630" width="2" height="13" fill="#C0C0C0"/>
<rect x="1312" y="627" width="2" height="16" fill="#C0C0C0"/>
<rect x="1328" y="626" width="2" height="17" fill="#C0C0C0"/>
<rect x="1344" y="629" width="2" height="14" fill="#C0C0C0"/>
<rect x="1360" y="633" width="2" height="10" fill="#C0C0C0"/>
<rect x="1376" y="630" width="2" height="13" fill="#C0C0C0"/>
<rect x="1392" y="625" width="2" height="18" fill="#C0C0C0"/>
<rect x="1408" y="621" width="2" height="22" fill="#C0C0C0"/>
<rect x="1424" y="619" width="2" height="24" fill="#C0C0C0"/>
<polyline points="1.3,707.0 8.8,710.2 15.1,713.3 20.2,715.6 32.7,720.2 37.8,722.5 49.1,727.5 56.7,730.3 64.9,732.8 68.6,734.3 80.6,739.1 86.9,740.4 97.0,743.5 104.5,745.4 113.4,747.7 122.2,750.5 128.5,752.1 134.8,753.4 146.1,754.2 162.5,754.2 170.0,753.2 178.8,752.1 188.9,750.5 199.0,748.6 207.8,746.0 212.6,745.3 218.9,743.4 230.3,739.6 241.6,734.8 254.2,730.4 265.5,725.1 278.2,719.2 290.8,713.7 302.1,708.1 314.7,701.8 326.1,696.1 338.7,691.1 350.0,686.0 362.6,681.0 374.0,676.8 386.6,673.4 397.9,670.9 404.0,669.2 417.2,667.2 427.7,665.9 439.6,664.6 451.5,662.9 463.3,661.5 476.5,660.0 492.4,657.6 505.6,655.3 518.8,653.6 532.0,652.0 542.5,650.0 551.8,647.7 565.0,645.4 576.9,642.5 590.0,639.5 601.9,636.2 612.6,633.6 625.8,631.6 639.0,628.7 649.6,626.3 662.8,624.6 673.3,623.7 683.9,621.7 694.5,619.7 707.7,618.0 719.5,616.4 732.7,615.3 755.2,615.1 781.6,614.5 801.4,614.3 811.9,613.1 823.3,612.4 835.8,611.5 849.0,609.4 859.6,608.2 872.8,606.5 884.7,604.8 899.2,603.3 920.3,601.6 952.0,601.5 971.8,603.2 985.0,605.2 998.2,607.1 1018.0,609.4 1028.5,611.5 1040.6,613.6 1051.1,614.5 1064.3,616.5 1076.2,617.5 1093.3,620.4 1106.5,623.5 1122.4,627.4 1135.6,631.0 1148.8,634.7 1162.0,638.7 1175.2,641.3 1188.4,646.3 1201.6,648.3 1214.8,650.9 1228.0,652.8 1243.0,653.6 1254.4,652.8 1267.6,651.2 1279.6,649.4 1291.6,647.6 1300.0,645.2 1312.0,642.8 1316.8,640.8 1328.8,639.6 1342.0,637.4 1354.0,635.6 1366.0,633.8 1378.0,632.4 1388.8,631.2 1393.6,630.2 1408.0,628.4 1425.0,627.2" fill="none" stroke="#FF0000" stroke-width="1" stroke-dasharray="3,3" shape-rendering="crispEdges"/>
</g>
<text x="5.5" y="598" font-family='"Liberation Sans", Arial, sans-serif' font-size="9.2" fill="#000" textLength="127" lengthAdjust="spacingAndGlyphs">MACD(12,26,9) 0.2429 0.1670</text>
<rect x="1629" y="587" width="2" height="1" fill="#000"/>
<rect x="1629" y="643" width="2" height="1" fill="#000"/>
<rect x="1629" y="767" width="2" height="1" fill="#000"/>
<text x="1632" y="596" font-family='"Liberation Sans", Arial, sans-serif' font-size="9.5" fill="#000">0.5724</text>
<text x="1632" y="646.5" font-family='"Liberation Sans", Arial, sans-serif' font-size="9.5" fill="#000">0.00</text>
<text x="1631.8" y="765" font-family='"Liberation Sans", Arial, sans-serif' font-size="9.5" fill="#000">-1.2551</text>
<rect x="0" y="770" width="1629" height="1" fill="#000"/>
<rect x="0" y="930" width="1629" height="1" fill="#000"/>
<rect x="0" y="770" width="1" height="161" fill="#000"/>
<rect x="1628" y="770" width="1" height="161" fill="#000"/>
<path d="M1,803.5 H1628" stroke="#C0C0C0" stroke-dasharray="3,3"/>
<path d="M1,850.5 H1628" stroke="#C0C0C0" stroke-dasharray="3,3"/>
<path d="M1,906.5 H1628" stroke="#C0C0C0" stroke-dasharray="3,3"/>
<g clip-path="url(#crsi)">
<polyline points="1.0,883.9 17.0,899.0 33.0,891.4 49.0,879.6 65.0,879.6 81.0,878.3 97.0,875.3 113.0,880.4 129.0,878.3 145.0,874.1 161.0,875.3 177.0,877.6 193.0,868.3 209.0,861.2 225.0,858.7 241.0,848.6 257.0,850.1 273.0,850.6 289.0,855.7 305.0,853.1 321.0,851.4 337.0,850.1 353.0,853.1 369.0,858.2 385.0,854.4 401.0,862.7 417.0,865.0 433.0,850.1 449.0,851.1 465.0,841.8 481.0,842.6 497.0,841.8 513.0,846.1 529.0,846.1 545.0,845.1 561.0,833.5 577.0,831.2 593.0,824.2 609.0,835.0 625.0,837.3 641.0,835.5 657.0,835.5 673.0,835.5 689.0,831.2 705.0,833.5 721.0,833.5 737.0,831.2 753.0,825.4 769.0,843.1 785.0,835.0 801.0,827.4 817.0,816.6 833.0,817.6 849.0,823.4 865.0,822.4 881.0,830.5 897.0,830.5 913.0,846.3 929.0,846.3 945.0,840.5 961.0,841.8 977.0,844.3 993.0,832.2 1009.0,840.5 1025.0,838.5 1041.0,844.3 1057.0,843.6 1073.0,862.5 1089.0,858.7 1105.0,872.5 1121.0,871.5 1137.0,872.5 1153.0,858.7 1169.0,859.4 1185.0,856.4 1201.0,851.1 1217.0,846.8 1233.0,836.5 1249.0,840.0 1265.0,838.0 1281.0,833.5 1297.0,832.2 1313.0,832.2 1329.0,840.5 1345.0,851.1 1361.0,854.4 1377.0,837.5 1393.0,830.5 1409.0,831.2 1425.0,833.5" fill="none" stroke="#1E90FF" stroke-width="1" shape-rendering="crispEdges"/>
</g>
<text x="5.5" y="783" font-family='"Liberation Sans", Arial, sans-serif' font-size="9.2" fill="#000" textLength="67" lengthAdjust="spacingAndGlyphs">RSI(14) 61.0333</text>
<rect x="1629" y="772" width="2" height="1" fill="#000"/>
<text x="1632.3" y="781" font-family='"Liberation Sans", Arial, sans-serif' font-size="9.5" fill="#000">100</text>
<text x="1631.2" y="807" font-family='"Liberation Sans", Arial, sans-serif' font-size="9.5" fill="#000">80</text>
<text x="1631.2" y="854" font-family='"Liberation Sans", Arial, sans-serif' font-size="9.5" fill="#000">50</text>
<text x="1631.3" y="910" font-family='"Liberation Sans", Arial, sans-serif' font-size="9.5" fill="#000">15</text>
<text x="1632.1" y="927" font-family='"Liberation Sans", Arial, sans-serif' font-size="9.5" fill="#000">0</text>
<rect x="1" y="931" width="1" height="3" fill="#000"/>
<text x="0.5" y="943" font-family='"Liberation Sans", Arial, sans-serif' font-size="9.5" fill="#000" textLength="44.6" lengthAdjust="spacingAndGlyphs">1 Jan 2019</text>
<rect x="65" y="931" width="1" height="3" fill="#000"/>
<text x="64.5" y="943" font-family='"Liberation Sans", Arial, sans-serif' font-size="9.5" fill="#000" textLength="44.6" lengthAdjust="spacingAndGlyphs">6 Jan 2019</text>
<rect x="129" y="931" width="1" height="3" fill="#000"/>
<text x="128.5" y="943" font-family='"Liberation Sans", Arial, sans-serif' font-size="9.5" fill="#000" textLength="49.1" lengthAdjust="spacingAndGlyphs">10 Jan 2019</text>
<rect x="193" y="931" width="1" height="3" fill="#000"/>
<text x="192.5" y="943" font-family='"Liberation Sans", Arial, sans-serif' font-size="9.5" fill="#000" textLength="49.1" lengthAdjust="spacingAndGlyphs">15 Jan 2019</text>
<rect x="257" y="931" width="1" height="3" fill="#000"/>
<text x="256.5" y="943" font-family='"Liberation Sans", Arial, sans-serif' font-size="9.5" fill="#000" textLength="49.1" lengthAdjust="spacingAndGlyphs">20 Jan 2019</text>
<rect x="321" y="931" width="1" height="3" fill="#000"/>
<text x="320.5" y="943" font-family='"Liberation Sans", Arial, sans-serif' font-size="9.5" fill="#000" textLength="49.1" lengthAdjust="spacingAndGlyphs">24 Jan 2019</text>
<rect x="385" y="931" width="1" height="3" fill="#000"/>
<text x="384.5" y="943" font-family='"Liberation Sans", Arial, sans-serif' font-size="9.5" fill="#000" textLength="49.1" lengthAdjust="spacingAndGlyphs">29 Jan 2019</text>
<rect x="449" y="931" width="1" height="3" fill="#000"/>
<text x="448.5" y="943" font-family='"Liberation Sans", Arial, sans-serif' font-size="9.5" fill="#000" textLength="46.5" lengthAdjust="spacingAndGlyphs">3 Feb 2019</text>
<rect x="513" y="931" width="1" height="3" fill="#000"/>
<text x="512.5" y="943" font-family='"Liberation Sans", Arial, sans-serif' font-size="9.5" fill="#000" textLength="46.5" lengthAdjust="spacingAndGlyphs">7 Feb 2019</text>
<rect x="577" y="931" width="1" height="3" fill="#000"/>
<text x="576.5" y="943" font-family='"Liberation Sans", Arial, sans-serif' font-size="9.5" fill="#000" textLength="50.9" lengthAdjust="spacingAndGlyphs">12 Feb 2019</text>
<rect x="641" y="931" width="1" height="3" fill="#000"/>
<text x="640.5" y="943" font-family='"Liberation Sans", Arial, sans-serif' font-size="9.5" fill="#000" textLength="50.9" lengthAdjust="spacingAndGlyphs">17 Feb 2019</text>
<rect x="705" y="931" width="1" height="3" fill="#000"/>
<text x="704.5" y="943" font-family='"Liberation Sans", Arial, sans-serif' font-size="9.5" fill="#000" textLength="50.9" lengthAdjust="spacingAndGlyphs">21 Feb 2019</text>
<rect x="769" y="931" width="1" height="3" fill="#000"/>
<text x="768.5" y="943" font-family='"Liberation Sans", Arial, sans-serif' font-size="9.5" fill="#000" textLength="50.9" lengthAdjust="spacingAndGlyphs">26 Feb 2019</text>
<rect x="833" y="931" width="1" height="3" fill="#000"/>
<text x="832.5" y="943" font-family='"Liberation Sans", Arial, sans-serif' font-size="9.5" fill="#000" textLength="46.6" lengthAdjust="spacingAndGlyphs">3 Mar 2019</text>
<rect x="897" y="931" width="1" height="3" fill="#000"/>
<text x="896.5" y="943" font-family='"Liberation Sans", Arial, sans-serif' font-size="9.5" fill="#000" textLength="46.6" lengthAdjust="spacingAndGlyphs">7 Mar 2019</text>
<rect x="961" y="931" width="1" height="3" fill="#000"/>
<text x="960.5" y="943" font-family='"Liberation Sans", Arial, sans-serif' font-size="9.5" fill="#000" textLength="52.0" lengthAdjust="spacingAndGlyphs">12 Mar 2019</text>
<rect x="1025" y="931" width="1" height="3" fill="#000"/>
<text x="1024.5" y="943" font-family='"Liberation Sans", Arial, sans-serif' font-size="9.5" fill="#000" textLength="52.0" lengthAdjust="spacingAndGlyphs">17 Mar 2019</text>
<rect x="1089" y="931" width="1" height="3" fill="#000"/>
<text x="1088.5" y="943" font-family='"Liberation Sans", Arial, sans-serif' font-size="9.5" fill="#000" textLength="52.0" lengthAdjust="spacingAndGlyphs">21 Mar 2019</text>
<rect x="1153" y="931" width="1" height="3" fill="#000"/>
<text x="1152.5" y="943" font-family='"Liberation Sans", Arial, sans-serif' font-size="9.5" fill="#000" textLength="52.0" lengthAdjust="spacingAndGlyphs">26 Mar 2019</text>
<rect x="1217" y="931" width="1" height="3" fill="#000"/>
<text x="1216.5" y="943" font-family='"Liberation Sans", Arial, sans-serif' font-size="9.5" fill="#000" textLength="52.0" lengthAdjust="spacingAndGlyphs">31 Mar 2019</text>
<rect x="1281" y="931" width="1" height="3" fill="#000"/>
<text x="1280.5" y="943" font-family='"Liberation Sans", Arial, sans-serif' font-size="9.5" fill="#000" textLength="46.3" lengthAdjust="spacingAndGlyphs">4 Apr 2019</text>
<rect x="1345" y="931" width="1" height="3" fill="#000"/>
<text x="1344.5" y="943" font-family='"Liberation Sans", Arial, sans-serif' font-size="9.5" fill="#000" textLength="46.3" lengthAdjust="spacingAndGlyphs">9 Apr 2019</text>
<rect x="1409" y="931" width="1" height="3" fill="#000"/>
<text x="1408.5" y="943" font-family='"Liberation Sans", Arial, sans-serif' font-size="9.5" fill="#000" textLength="50.8" lengthAdjust="spacingAndGlyphs">14 Apr 2019</text>
<rect x="0" y="951" width="1667" height="1" fill="#E6E6E6"/>
</svg></body></html>
